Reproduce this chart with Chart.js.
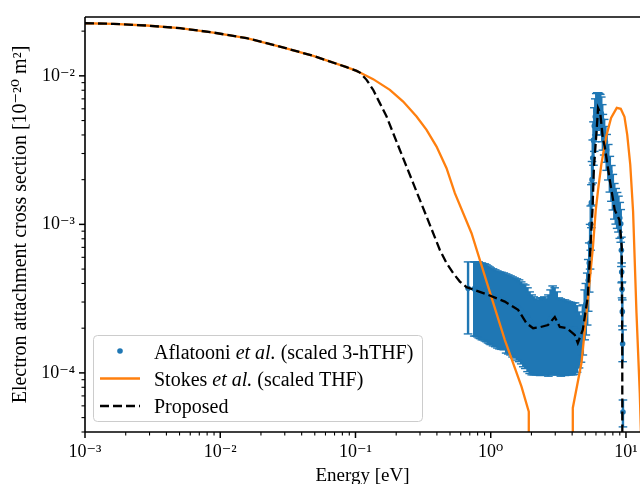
<!DOCTYPE html>
<html>
<head>
<meta charset="utf-8">
<script src="https://cdn.jsdelivr.net/npm/chart.js@4.4.0/dist/chart.umd.min.js"></script>
<style>
html, body { margin: 0; padding: 0; background: #fff; overflow: hidden; }
</style>
</head>
<body>
<canvas id="myChart" width="640" height="484"></canvas>
<script>
// Aflatooni et al. (scaled 3-hTHF), energy in eV, sigma and error in units of 1e-4 (x 1e-20 m^2)
var aflEnergy = [0.68, 0.755, 0.775, 0.795, 0.815, 0.835, 0.86, 0.88, 0.905, 0.93, 0.955, 0.98,
    1.00, 1.04, 1.08, 1.12, 1.16, 1.20, 1.25, 1.30, 1.35, 1.40, 1.45, 1.50, 1.56, 1.62, 1.68, 1.74, 1.80,
    1.87, 1.94, 2.01, 2.08, 2.16, 2.24, 2.32, 2.40, 2.49, 2.58, 2.67, 2.77, 2.87, 2.97, 3.08, 3.19, 3.30,
    3.42, 3.54, 3.66, 3.79, 3.92, 4.06, 4.20, 4.35, 4.50, 4.65, 4.80, 4.95,
    5.05, 5.17, 5.26, 5.35, 5.43, 5.49, 5.55, 5.61, 5.68, 5.75, 5.83, 5.93, 6.03, 6.14, 6.24, 6.35, 6.46,
    6.57, 6.68, 6.75, 6.90, 7.05, 7.20, 7.40, 7.60, 7.80, 8.00, 8.20, 8.40, 8.60, 8.80, 9.00, 9.15, 9.25,
    9.30, 9.35, 9.40, 9.45, 9.50];
var aflSigma = [3.71, 3.68, 3.67, 3.67, 3.655, 3.60, 3.585, 3.545, 3.53, 3.48, 3.42, 3.37,
    3.32, 3.27, 3.22, 3.165, 3.12, 3.10, 3.07, 3.0, 2.955, 2.91, 2.855, 2.81, 2.76, 2.71, 2.625, 2.535, 2.49,
    2.38, 2.25, 2.16, 2.11, 2.06, 2.035, 2.08, 2.085, 2.11, 2.06, 2.15, 2.295, 2.42, 2.355, 2.24, 2.085, 2.05,
    2.035, 2.03, 2.01, 1.99, 1.98, 1.965, 1.97, 1.92, 1.825, 1.80, 2.095, 2.645,
    2.9, 3.4, 4.2, 5.5, 7.5, 10.0, 14, 20, 28, 37, 46, 53, 58, 60, 61, 60, 59,
    56, 50, 43.3, 40.1, 35.9, 31.7, 27.2, 22.6, 19.6, 17.1, 14.85, 13.74, 12.9, 12.18, 11.05, 10.08, 6.7,
    4.77, 3.65, 2.585, 1.57, 0.545];
var aflError = [1.88, 1.91, 1.90, 1.92, 1.935, 1.90, 1.915, 1.875, 1.89, 1.86, 1.83, 1.80,
    1.77, 1.75, 1.72, 1.695, 1.67, 1.66, 1.64, 1.64, 1.615, 1.59, 1.575, 1.55, 1.54, 1.52, 1.475, 1.435, 1.42,
    1.36, 1.26, 1.19, 1.14, 1.09, 1.065, 1.12, 1.115, 1.14, 1.09, 1.20, 1.325, 1.43, 1.385, 1.27, 1.115, 1.10,
    1.065, 1.07, 1.04, 1.02, 1.01, 0.995, 0.99, 0.91, 0.745, 0.62, 0.775, 0.975,
    1.1, 1.3, 1.6, 2.0, 2.5, 3.3, 4.5, 6.5, 9, 12, 15, 17, 18, 17, 16, 16, 16,
    16, 14, 11.7, 10.8, 9.7, 8.6, 7.3, 6.1, 5.3, 4.6, 4.0, 3.7, 3.5, 3.3, 3.0, 2.5, 1.5,
    0.73, 0.45, 0.515, 0.38, 0.112];
var aflUnit = 1e-4;

// Stokes et al. (scaled THF)
var stokesEnergy = [0.001, 0.00162, 0.002858, 0.00504, 0.00888, 0.01567, 0.02762, 0.04869, 0.0859, 0.1019,
    0.1078, 0.1351, 0.1796, 0.2252, 0.2829, 0.3354, 0.3976, 0.4713, 0.543, 0.7213, 0.957, 1.271, 1.689,
    1.912, 1.912, 4.045, 4.045, 4.69, 5.25, 5.70, 5.98, 6.22, 6.57, 7.13, 7.76, 8.55, 9.15, 9.75, 10.22,
    10.76, 11.29, 11.96, 12.65, 13.5];
var stokesSigma = [0.0226, 0.0224, 0.02182, 0.02095, 0.01957, 0.01794, 0.01575, 0.01364, 0.01144, 0.0108,
    0.01052, 0.0095, 0.00805, 0.00671, 0.00532, 0.00433, 0.00334, 0.00239, 0.001622, 0.000872, 0.000381,
    0.000167, 0.0000808, 0.0000549, 1e-8, 1e-8, 0.0000581, 0.000117, 0.000325, 0.000705, 0.001252, 0.00171,
    0.00252, 0.00388, 0.00521, 0.00609, 0.0060, 0.0053, 0.00401, 0.00252, 0.00122, 0.000254, 0.0000733, 0.00001];

// Proposed
var propEnergy = [0.001, 0.00162, 0.002858, 0.00504, 0.00888, 0.01567, 0.02762, 0.04869, 0.0859, 0.1019,
    0.1078, 0.1208, 0.1351, 0.1514, 0.1698, 0.2129, 0.267, 0.3354, 0.4206, 0.4713, 0.5276, 0.5909, 0.6624,
    0.957, 1.271, 1.594, 1.839, 2.058, 2.306, 2.65, 2.977, 3.242, 3.651, 4.183, 4.404, 4.794, 5.22, 5.52,
    5.655, 5.80, 6.05, 6.22, 6.46, 6.74, 6.97, 7.59, 8.26, 8.95, 9.31, 9.39, 9.47];
var propSigma = [0.0226, 0.0224, 0.02182, 0.02095, 0.01957, 0.01794, 0.01575, 0.01364, 0.01144, 0.0108,
    0.01052, 0.0094, 0.00805, 0.00655, 0.00532, 0.00317, 0.001894, 0.001129, 0.000673, 0.000548, 0.000469,
    0.000412, 0.000378, 0.000335, 0.000302, 0.000266, 0.000216, 0.0002, 0.000203, 0.00021, 0.000238, 0.000204,
    0.0002, 0.00018, 0.000159, 0.000195, 0.000325, 0.00085, 0.001252, 0.00244, 0.00413, 0.00606, 0.0056,
    0.00382, 0.00334, 0.00199, 0.001252, 0.001072, 0.000705, 0.000143, 1e-8];

var xTickValues = [1e-3, 1e-2, 1e-1, 1, 10];
var xTickLabels = ['10⁻³', '10⁻²', '10⁻¹', '10⁰', '10¹'];
var yTickValues = [1e-4, 1e-3, 1e-2];
var yTickLabels = ['10⁻⁴', '10⁻³', '10⁻²'];

var legendLabels = [
    [['Aflatooni ', false], ['et al.', true], [' (scaled 3-hTHF)', false]],
    [['Stokes ', false], ['et al.', true], [' (scaled THF)', false]],
    [['Proposed', false]]
];

var blue = '#1f77b4', orange = '#ff7f0e';
var serif = '"Liberation Serif", "DejaVu Serif", serif';

function tickLabel(values, labels) {
    return function (v) {
        for (var i = 0; i < values.length; i++) {
            if (Math.abs(Math.log10(v) - Math.log10(values[i])) < 1e-6) return labels[i];
        }
        return '';
    };
}

var aflPoints = aflEnergy.map(function (e, i) { return {x: e, y: aflSigma[i] * aflUnit}; });
var aflBars = [];
aflEnergy.forEach(function (e, i) {
    aflBars.push({x: e, y: (aflSigma[i] - aflError[i]) * aflUnit});
    aflBars.push({x: e, y: (aflSigma[i] + aflError[i]) * aflUnit});
    aflBars.push({x: e, y: null});
});
var stokesPoints = stokesEnergy.map(function (e, i) { return {x: e, y: stokesSigma[i]}; });
var propPoints = propEnergy.map(function (e, i) { return {x: e, y: propSigma[i]}; });

// spines, outward ticks and the legend box
var decor = {
    id: 'decor',
    afterDraw: function (chart) {
        var ctx = chart.ctx, a = chart.chartArea;
        var xs = chart.scales.x, ys = chart.scales.y;
        ctx.save();
        ctx.strokeStyle = '#000';
        ctx.lineWidth = 1.6;
        ctx.beginPath();
        ctx.moveTo(a.left, a.top); ctx.lineTo(a.right + 2, a.top);
        ctx.moveTo(a.left, a.top); ctx.lineTo(a.left, a.bottom);
        ctx.moveTo(a.left, a.bottom); ctx.lineTo(a.right + 2, a.bottom);
        ctx.stroke();

        for (var ex = -3; ex <= 1; ex++) {
            for (var m = 1; m <= 9; m++) {
                var v = m * Math.pow(10, ex);
                if (v < xs.min * 0.999 || v > xs.max) continue;
                var px = xs.getPixelForValue(v);
                ctx.lineWidth = m === 1 ? 1.5 : 1.1;
                ctx.beginPath();
                ctx.moveTo(px, a.bottom); ctx.lineTo(px, a.bottom + (m === 1 ? 6 : 3.5));
                ctx.stroke();
            }
        }
        for (var ey = -5; ey <= -2; ey++) {
            for (var n = 1; n <= 9; n++) {
                var w = n * Math.pow(10, ey);
                if (w < ys.min * 0.999 || w > ys.max) continue;
                var py = ys.getPixelForValue(w);
                ctx.lineWidth = n === 1 ? 1.5 : 1.1;
                ctx.beginPath();
                ctx.moveTo(a.left, py); ctx.lineTo(a.left - (n === 1 ? 6 : 3.5), py);
                ctx.stroke();
            }
        }

        // legend
        ctx.beginPath();
        ctx.roundRect(93.5, 335.5, 329, 86, 4);
        ctx.fillStyle = 'rgba(255,255,255,0.8)';
        ctx.fill();
        ctx.lineWidth = 1;
        ctx.strokeStyle = '#cccccc';
        ctx.stroke();

        var ds = chart.data.datasets;
        ctx.fillStyle = ds[2].backgroundColor;
        ctx.beginPath();
        ctx.arc(120, 351, 2.8, 0, Math.PI * 2);
        ctx.fill();

        ctx.strokeStyle = ds[1].borderColor;
        ctx.lineWidth = ds[1].borderWidth;
        ctx.beginPath();
        ctx.moveTo(100, 378.5); ctx.lineTo(140, 378.5);
        ctx.stroke();

        ctx.strokeStyle = ds[0].borderColor;
        ctx.lineWidth = ds[0].borderWidth;
        ctx.setLineDash(ds[0].borderDash);
        ctx.beginPath();
        ctx.moveTo(100, 406); ctx.lineTo(140, 406);
        ctx.stroke();
        ctx.setLineDash([]);

        var baselines = [358.5, 386, 413];
        ctx.fillStyle = '#000';
        ctx.textBaseline = 'alphabetic';
        legendLabels.forEach(function (parts, i) {
            var x = 154;
            parts.forEach(function (p) {
                ctx.font = (p[1] ? 'italic ' : '') + '20px ' + serif;
                ctx.fillText(p[0], x, baselines[i]);
                x += ctx.measureText(p[0]).width;
            });
        });
        ctx.restore();
    }
};

Chart.defaults.font.family = serif;
Chart.defaults.color = '#000';

new Chart('myChart', {
    type: 'scatter',
    data: {
        datasets: [{
            label: 'Proposed',
            data: propPoints,
            showLine: true,
            borderColor: '#000',
            borderWidth: 2.3,
            borderDash: [9, 4],
            pointRadius: 0,
            order: 0
        }, {
            label: 'Stokes et al. (scaled THF)',
            data: stokesPoints,
            showLine: true,
            borderColor: orange,
            borderWidth: 2.3,
            pointRadius: 0,
            order: 1
        }, {
            label: 'Aflatooni et al. (scaled 3-hTHF)',
            data: aflPoints,
            showLine: false,
            backgroundColor: blue,
            borderWidth: 0,
            pointRadius: 2.8,
            order: 2
        }, {
            label: 'error',
            data: aflBars,
            showLine: true,
            spanGaps: false,
            borderColor: blue,
            borderWidth: 2.4,
            pointStyle: 'line',
            pointRadius: 4.3,
            pointBorderColor: blue,
            pointBorderWidth: 1.4,
            order: 3
        }]
    },
    options: {
        responsive: false,
        animation: false,
        events: [],
        layout: {autoPadding: false, padding: {top: 17, right: 0, bottom: 0, left: 0}},
        plugins: {legend: {display: false}, tooltip: {enabled: false}},
        scales: {
            x: {
                type: 'logarithmic',
                min: 1e-3,
                max: 12.7,
                grid: {display: true, drawOnChartArea: false, drawTicks: true, tickLength: 9, color: 'rgba(0,0,0,0)'},
                border: {display: false},
                ticks: {padding: 0, autoSkip: false, maxRotation: 0, minRotation: 0,
                    font: {size: 18}, callback: tickLabel(xTickValues, xTickLabels)},
                title: {display: true, text: 'Energy [eV]', font: {size: 19, lineHeight: 1},
                    padding: {top: 0, bottom: -1.5}},
                afterFit: function (s) { s.height = 52; s.paddingRight = 0; }
            },
            y: {
                type: 'logarithmic',
                min: 4.0e-5,
                max: 2.49e-2,
                grid: {display: true, drawOnChartArea: false, drawTicks: true, tickLength: 10, color: 'rgba(0,0,0,0)'},
                border: {display: false},
                ticks: {padding: 0, autoSkip: false, font: {size: 18}, callback: tickLabel(yTickValues, yTickLabels)},
                title: {display: true, text: 'Electron attachment cross section [10⁻²⁰ m²]',
                    font: {size: 20, lineHeight: 1}, padding: {top: 11, bottom: 0}},
                afterFit: function (s) { s.width = 85; }
            }
        }
    },
    plugins: [decor]
});
</script>
</body>
</html>
